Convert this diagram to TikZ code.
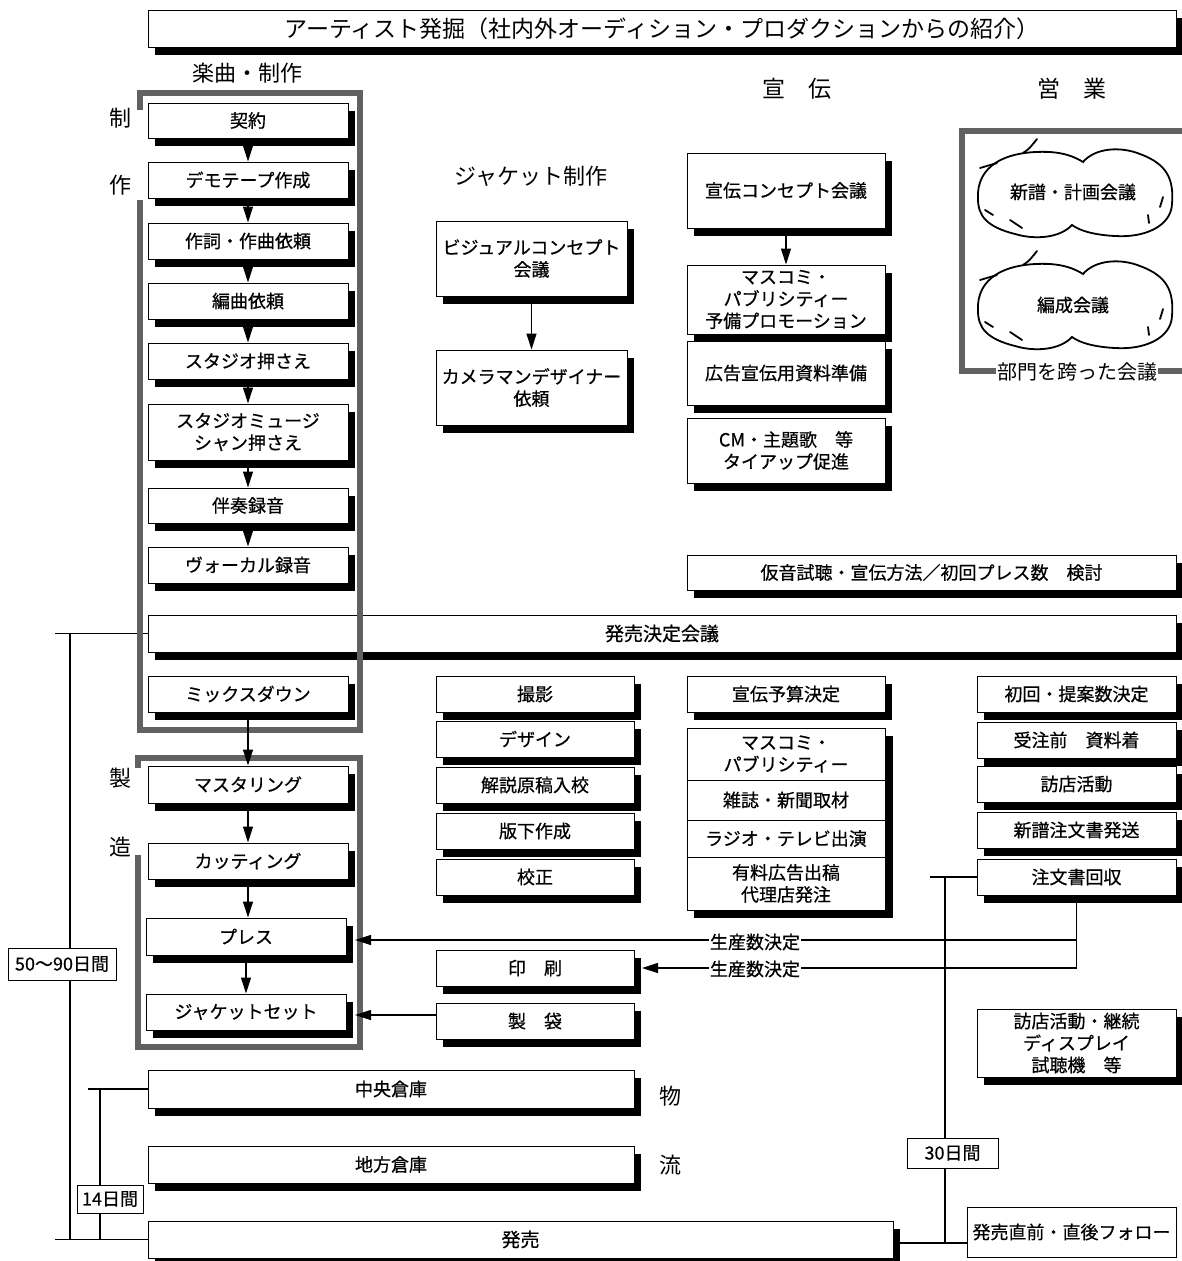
\documentclass[tikz,border=0pt]{standalone}
\usepackage{fontspec}
\setmainfont{Noto Sans CJK JP}[FakeBold=0.6]
\newfontfamily\plainjp{Noto Sans CJK JP}
\usetikzlibrary{arrows.meta,shadows,calc}
\tikzset{
  bx/.style={draw, line width=1pt, fill=white, inner sep=0pt, align=center,
    font=\fontsize{18}{22}\selectfont,
    drop shadow={shadow xshift=7pt, shadow yshift=-8pt, fill=black, opacity=1, draw=none}},
  pl/.style={draw, line width=1pt, fill=white, inner sep=0pt, align=center,
    font=\fontsize{18}{22}\selectfont},
  lc/.style={bx, minimum width=200pt, minimum height=36pt},
  jl/.style={bx, minimum width=198pt, minimum height=36pt},
  pc/.style={bx, minimum width=198pt},
  sc/.style={bx, minimum width=199pt, minimum height=36pt},
  arr/.style={line width=1.2pt, -{Triangle[length=16pt,width=10pt]}},
  ln/.style={line width=1.2pt},
  frm/.style={line width=6pt, draw=black!62},
  hd/.style={font=\plainjp\fontsize{22}{26}\selectfont, inner sep=1pt},
  lab/.style={fill=white, inner sep=1pt, font=\fontsize{18}{20}\selectfont},
}
\newcommand{\drawcloud}[1]{%
  \begin{scope}[shift={#1}, line width=1.8pt, line cap=round]
    \draw[fill=white] (-97,5) .. controls (-99,-28) and (-70,-44) .. (-25,-42)
      .. controls (-10,-41) and (0,-37) .. (8,-32)
      .. controls (20,-46) and (45,-48) .. (65,-40)
      .. controls (92,-30) and (99,-15) .. (97,10)
      .. controls (96,32) and (70,44) .. (40,42)
      .. controls (20,41) and (5,37) .. (-3,31)
      .. controls (-15,44) and (-40,46) .. (-60,40)
      .. controls (-88,33) and (-97,22) .. cycle;
    \draw (-52,-41) .. controls (-46,-45) .. (-38,-55);
    \draw (-95,-26) -- (-78,-31);
    \draw (-65,26) -- (-53,34);
    \draw (-90,16) -- (-82,21);
    \draw (73,21) -- (74,29);
    \draw (88,3) -- (85,13);
  \end{scope}}
\begin{document}
\begin{tikzpicture}[x=1pt,y=-1pt]
\useasboundingbox (0,0) rectangle (1181,1261);

% title
\node[bx, minimum width=1028pt, minimum height=37pt, font=\plainjp\fontsize{23}{26}\selectfont] (title) at (662,28.5)
  {アーティスト発掘（社内外オーディション・プロダクションからの紹介）};

% headings
\node[hd] (h1) at (247,73) {楽曲・制作};
\node[hd] (h2) at (531,176) {ジャケット制作};
\node[hd, font=\plainjp\fontsize{23}{26}\selectfont] (h3) at (797,89) {宣　伝};
\node[hd, font=\plainjp\fontsize{23}{26}\selectfont] (h4) at (1072,89) {営　業};
\node[hd] (s1) at (120,118) {制};
\node[hd] (s2) at (120,185) {作};
\node[hd] (s3) at (120,778) {製};
\node[hd] (s4) at (120,847) {造};
\node[hd] (b1) at (670,1096) {物};
\node[hd] (b2) at (670,1165) {流};

% timelines (drawn first)
\coordinate (a1) at (55,633.5);
\coordinate (a2) at (55,1239.5);
\coordinate (a3) at (70,633.5);
\coordinate (a4) at (70,1239.5);
\coordinate (b14a) at (88,1089);
\coordinate (b14b) at (100,1089);
\coordinate (b14c) at (100,1239.5);
\coordinate (c1) at (930,877);
\coordinate (c2) at (945,877);
\coordinate (c3) at (945,1243);
\coordinate (c4) at (900,1243);
\coordinate (c5) at (967,1243);
\draw[ln] (a3) -- (a4);
\draw[ln] (b14b) -- (b14c);
\draw[ln] (c2) -- (c3);
\draw[ln] (c4) -- (c5);

% left production column
\node[lc, minimum height=35pt] (kei) at (248,120.5) {契約};
\node[lc] (demo) at (248,180) {デモテープ作成};
\node[lc] (saku) at (248,241) {作詞・作曲依頼};
\node[lc] (hen) at (248,301) {編曲依頼};
\node[lc] (stu) at (248,361) {スタジオ押さえ};
\node[lc, minimum height=56pt] (stum) at (248,432) {スタジオミュージ\\シャン押さえ};
\node[lc, minimum height=35pt] (ban) at (248,505.5) {伴奏録音};
\node[lc] (voc) at (248,565) {ヴォーカル録音};

% jacket top
\node[bx, minimum width=191pt, minimum height=75pt] (vis) at (531.5,258.5) {ビジュアルコンセプト\\会議};
\node[bx, minimum width=191pt, minimum height=75pt] (cam) at (531.5,387.5) {カメラマンデザイナー\\依頼};

% promotion top
\node[pc, minimum height=75pt] (senc) at (786,190.5) {宣伝コンセプト会議};
\node[pc, minimum height=69pt] (masu1) at (786,299.5) {マスコミ・\\パブリシティー\\予備プロモーション};
\node[pc, minimum height=64pt] (koku) at (786,373) {広告宣伝用資料準備};
\node[pc, minimum height=65pt] (cm) at (786,450.5) {CM・主題歌　等\\タイアップ促進};

% sales frame and clouds
\draw[frm] (1190,131) -- (962,131) -- (962,371) -- (1190,371);
\drawcloud{(1075,194)}
\drawcloud{(1075,306)}
\node[font=\fontsize{18}{20}\selectfont] (cl1) at (1073,192) {新譜・計画会議};
\node[font=\fontsize{18}{20}\selectfont] (cl2) at (1073,305) {編成会議};
\node[lab, font=\plainjp\fontsize{20}{22}\selectfont] (bumon) at (1077,372) {部門を跨った会議};

% wide boxes
\node[bx, minimum width=489pt, minimum height=35pt] (kari) at (931.5,572.5) {仮音試聴・宣伝方法／初回プレス数　検討};
\node[bx, minimum width=1028pt, minimum height=37pt, font=\fontsize{19}{22}\selectfont] (kaigi) at (662,633.5) {発売決定会議};
\draw[ln] (a1) -- (kaigi.west);

\node[lc] (mix) at (248,694) {ミックスダウン};

% jacket lower
\node[jl] (sat) at (535,694) {撮影};
\node[jl] (des) at (535,739) {デザイン};
\node[jl] (kai) at (535,785) {解説原稿入校};
\node[jl] (han) at (535,831) {版下作成};
\node[jl] (kou) at (535,877) {校正};

% promotion lower
\node[pc, minimum height=36pt] (yos) at (786,694) {宣伝予算決定};
\fill (694,736) rectangle (893,918);
\node[pl, minimum width=198pt, minimum height=52pt] (masu2) at (786,754) {マスコミ・\\パブリシティー};
\node[pl, minimum width=198pt, minimum height=40pt] (zas) at (786,800) {雑誌・新聞取材};
\node[pl, minimum width=198pt, minimum height=37pt] (rad) at (786,838.5) {ラジオ・テレビ出演};
\node[pl, minimum width=198pt, minimum height=53pt] (yur) at (786,883.5) {有料広告出稿\\代理店発注};

% sales lower
\node[sc] (sho) at (1076.5,694) {初回・提案数決定};
\node[sc] (jyu) at (1076.5,740) {受注前　資料着};
\node[sc] (hou) at (1076.5,784) {訪店活動};
\node[sc] (shin) at (1076.5,830) {新譜注文書発送};
\node[sc] (kais) at (1076.5,877) {注文書回収};
\node[sc, minimum height=68pt] (houk) at (1076.5,1043) {訪店活動・継続\\ディスプレイ\\試聴機　等};
\node[pl, minimum width=209pt, minimum height=50pt, font=\fontsize{18}{22}\selectfont] (foll) at (1071.5,1232) {発売直前・直後フォロー};
\draw[ln] (c1) -- (kais.west);

% manufacturing
\node[lc, minimum height=37pt] (mas) at (248,784.5) {マスタリング};
\node[lc] (cut) at (248,861) {カッティング};
\node[lc, minimum height=37pt] (pre) at (246,936.5) {プレス};
\node[lc] (jak) at (246,1012) {ジャケットセット};

\node[jl] (ins) at (535,968) {印　刷};
\node[jl] (sei) at (535,1021) {製　袋};

% logistics
\node[bx, minimum width=486pt, minimum height=38pt] (chuo) at (391,1089) {中央倉庫};
\node[bx, minimum width=486pt, minimum height=37pt] (chiho) at (391,1164.5) {地方倉庫};
\node[bx, minimum width=745pt, minimum height=37pt, font=\fontsize{19}{22}\selectfont] (hatsu) at (520.5,1239.5) {発売};
\draw[ln] (b14a) -- (chuo.west);
\draw[ln] (a2) -- (hatsu.west);

% frames
\draw[frm] (140,110) -- (140,93) -- (360,93) -- (360,730) -- (140,730) -- (140,200);
\draw[frm] (138,768) -- (138,758) -- (360,758) -- (360,1047) -- (138,1047) -- (138,855);

% arrows in columns
\draw[arr] (kei.south) -- (demo.north);
\draw[arr] (demo.south) -- (saku.north);
\draw[arr] (saku.south) -- (hen.north);
\draw[arr] (hen.south) -- (stu.north);
\draw[arr] (stu.south) -- (stum.north);
\draw[arr] (stum.south) -- (ban.north);
\draw[arr] (ban.south) -- (voc.north);
\draw[arr] (mix.south) -- (mas.north);
\draw[arr] (mas.south) -- (cut.north);
\draw[arr] (cut.south) -- (cut.south |- pre.north);
\draw[arr] (pre.south) -- (jak.north);
\draw[arr] (vis.south) -- (cam.north);
\draw[arr] (senc.south) -- (masu1.north);

% production quantity lines
\coordinate (k1) at (1076.5,940);
\coordinate (k2) at (1076.5,968);
\coordinate (pR) at (355,940);
\coordinate (iR) at (642,968);
\coordinate (sW) at (sei.west |- 0,1015);
\coordinate (jR) at (355,1015);
\draw[ln] (kais.south) -- (k2);
\draw[arr] (k1) -- (pR);
\draw[arr] (k2) -- (iR);
\draw[arr] (sW) -- (jR);
\node[lab] (sq1) at (755,942) {生産数決定};
\node[lab] (sq2) at (755,969) {生産数決定};

% period boxes
\node[pl, minimum width=108pt, minimum height=32pt] (d5090) at (62,964) {50～90日間};
\node[pl, minimum width=66pt, minimum height=28pt] (d14) at (110,1199) {14日間};
\node[pl, minimum width=91pt, minimum height=30pt] (d30) at (952.5,1153) {30日間};
\end{tikzpicture}
\end{document}
